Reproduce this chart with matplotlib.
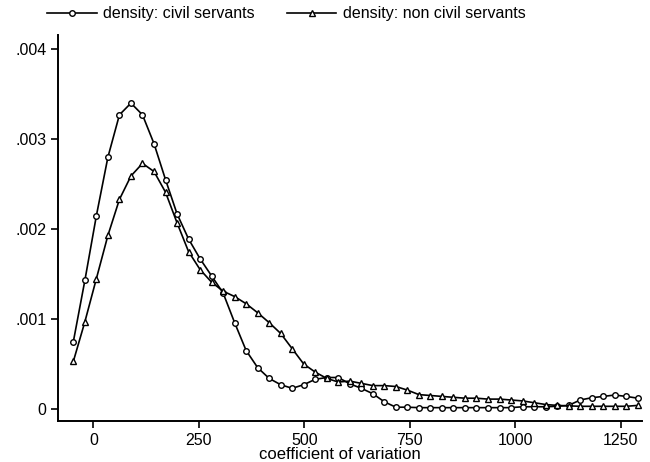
import matplotlib
matplotlib.use("Agg")
import matplotlib.pyplot as plt

# kdensity evaluation points (coefficient of variation)
cv = [-47.3, -20.0, 7.3, 34.6, 61.9, 89.2, 116.5, 143.8, 171.1, 198.4,
      225.7, 253.0, 280.3, 307.6, 334.9, 362.2, 389.5, 416.8, 444.1, 471.4,
      498.7, 526.0, 553.3, 580.6, 607.9, 635.2, 662.5, 689.8, 717.1, 744.4,
      771.7, 799.0, 826.3, 853.6, 880.9, 908.2, 935.5, 962.8, 990.1, 1017.4,
      1044.7, 1072.0, 1099.3, 1126.6, 1153.9, 1181.2, 1208.5, 1235.8, 1263.1, 1290.4]

# densities (x 1e-3)
civil = [0.75, 1.43, 2.15, 2.80, 3.27, 3.40, 3.27, 2.95, 2.55, 2.17,
         1.89, 1.67, 1.48, 1.29, 0.96, 0.65, 0.46, 0.34, 0.27, 0.23,
         0.27, 0.33, 0.35, 0.35, 0.28, 0.23, 0.17, 0.08, 0.02, 0.02,
         0.015, 0.015, 0.015, 0.015, 0.015, 0.015, 0.015, 0.015, 0.015, 0.025,
         0.025, 0.025, 0.03, 0.04, 0.10, 0.125, 0.14, 0.155, 0.14, 0.12]
noncivil = [0.53, 0.97, 1.45, 1.93, 2.33, 2.59, 2.73, 2.64, 2.41, 2.07,
            1.75, 1.55, 1.41, 1.31, 1.25, 1.17, 1.07, 0.96, 0.84, 0.67,
            0.50, 0.41, 0.34, 0.30, 0.31, 0.285, 0.26, 0.26, 0.25, 0.21,
            0.16, 0.15, 0.14, 0.13, 0.12, 0.12, 0.11, 0.11, 0.10, 0.09,
            0.07, 0.05, 0.04, 0.035, 0.03, 0.03, 0.03, 0.03, 0.03, 0.04]

xticks = [0, 250, 500, 750, 1000, 1250]
yticks = [0, 0.001, 0.002, 0.003, 0.004]
ylabels = ["0", ".001", ".002", ".003", ".004"]

plt.rcParams["font.family"] = ["Liberation Sans", "DejaVu Sans"]

fig = plt.figure(figsize=(6.5, 4.62), dpi=100)
ax = fig.add_axes([0.0897, 0.0894, 0.988 - 0.0897, 0.924 - 0.0894])

ax.plot(cv, [v / 1000 for v in civil], color="black", lw=1.2,
        marker="o", ms=4, mfc="white", mec="black", mew=1.0,
        label="density: civil servants")
ax.plot(cv, [v / 1000 for v in noncivil], color="black", lw=1.2,
        marker="^", ms=5, mfc="white", mec="black", mew=1.0,
        label="density: non civil servants")

ax.set_xlim(-83, 1301)
ax.set_ylim(-0.00013, 0.004156)
ax.set_xticks(xticks)
ax.set_yticks(yticks)
ax.set_yticklabels(ylabels)
ax.tick_params(direction="out", length=5, width=1.2, labelsize=11.5, colors="black")
for s in ["top", "right"]:
    ax.spines[s].set_visible(False)
for s in ["left", "bottom"]:
    ax.spines[s].set_linewidth(1.4)
ax.set_xlabel("coefficient of variation", fontsize=12)
ax.xaxis.set_label_coords(0.482, -0.068)

fig.legend(loc="upper left", bbox_to_anchor=(47 / 650, 0.986), ncol=2, frameon=False,
           fontsize=11.5, handlelength=3.1, numpoints=1, columnspacing=2.05,
           handletextpad=0.38, borderpad=0, borderaxespad=0)

fig.savefig("out.png", dpi=100)
